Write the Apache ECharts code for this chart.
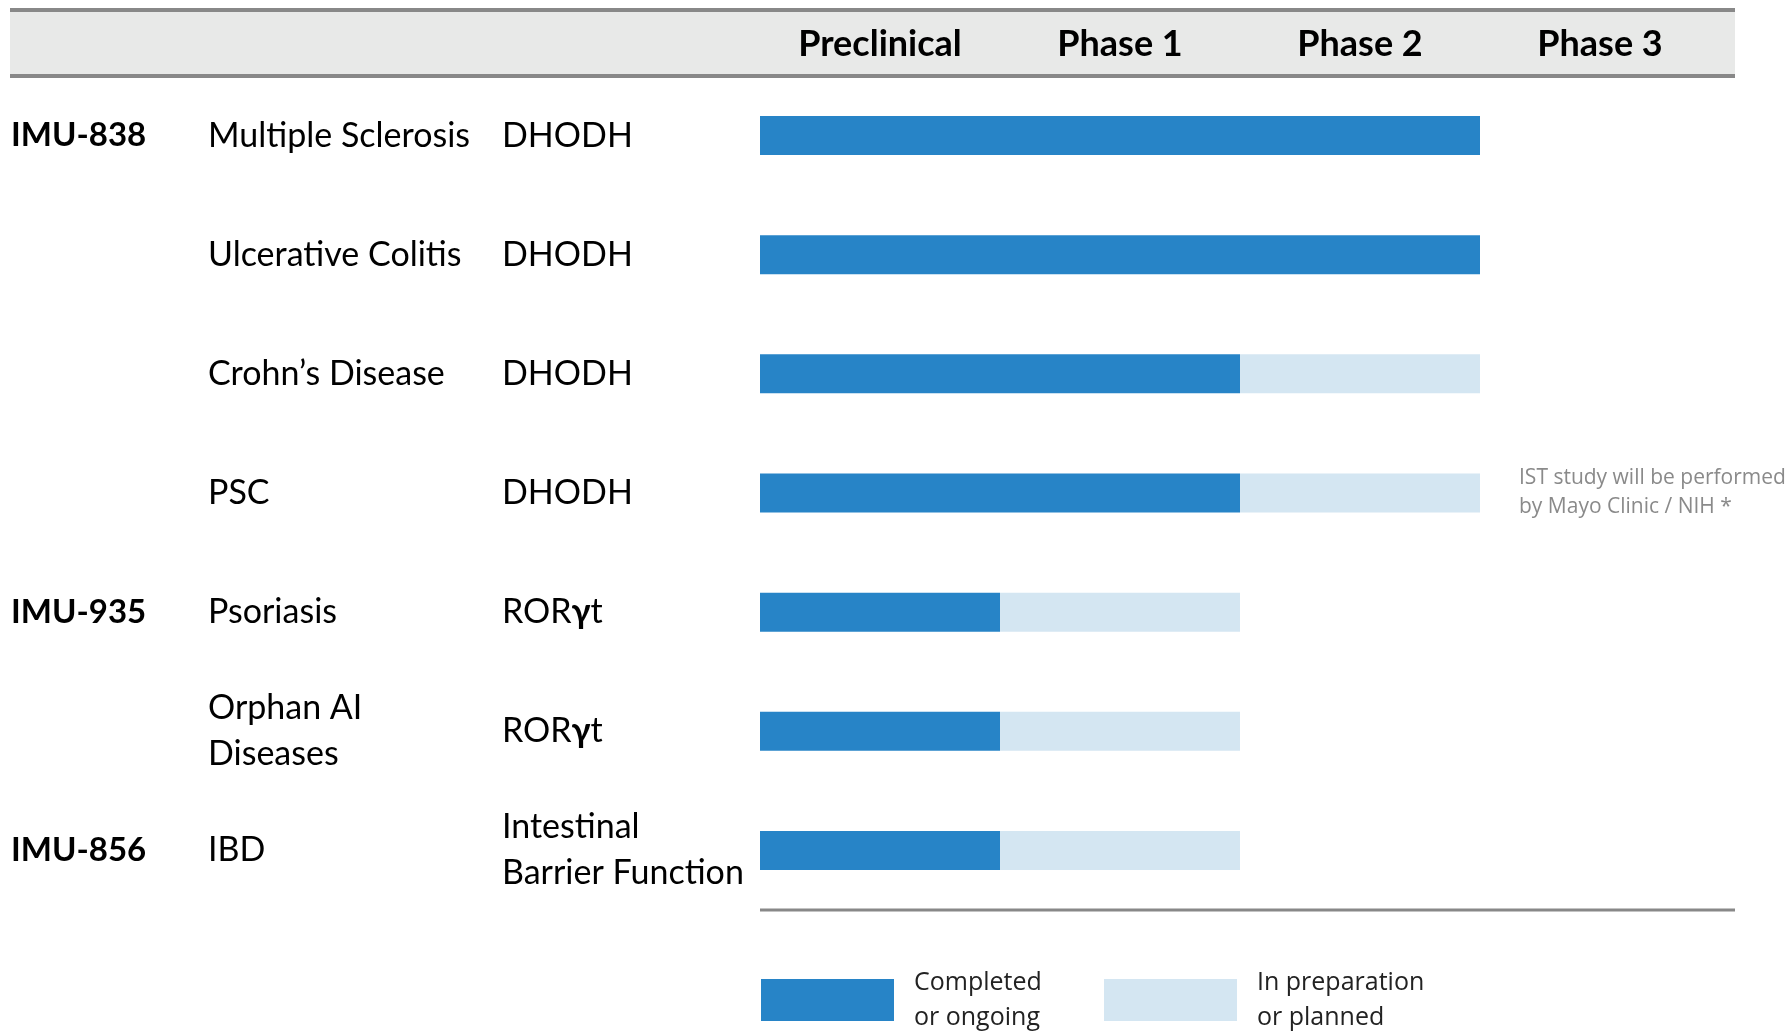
<!DOCTYPE html>
<html>
<head>
<meta charset="utf-8">
<script src="https://cdn.jsdelivr.net/npm/echarts@6/dist/echarts.min.js"></script>
<style>
  html, body { margin: 0; padding: 0; background: #fff; }
  #chart { width: 1790px; height: 1034px; }
</style>
</head>
<body>
<div id="chart"></div>
<script>
// pipeline rows, top to bottom
const indications = ['Multiple Sclerosis', 'Ulcerative Colitis', 'Crohn\u2019s Disease', 'PSC', 'Psoriasis', 'Orphan AI\nDiseases', 'IBD'];
const codes = ['IMU-838', '', '', '', 'IMU-935', '', 'IMU-856'];
const targets = ['DHODH', 'DHODH', 'DHODH', 'DHODH', 'ROR\u03b3t', 'ROR\u03b3t', 'Intestinal\nBarrier Function'];
const phases = ['Preclinical', 'Phase 1', 'Phase 2', 'Phase 3'];
// number of phases (bar length) per row
const completed = [3, 3, 2, 2, 1, 1, 1];
const planned = [0, 0, 1, 1, 1, 1, 1];
const notes = ['', '', '', 'IST study will be performed\nby Mayo Clinic / NIH *', '', '', ''];

const DARK = '#2784C7';
const LIGHT = '#D4E6F2';
const FONT = 'Lato';

let chart = echarts.init(document.getElementById('chart'));

// common style for the left columns
function leftAxis(offset, formatter, bold) {
    return {
        type: 'category',
        data: indications,
        inverse: true,
        position: 'left',
        offset: offset,
        axisLine: { show: false },
        axisTick: { show: false },
        splitLine: { show: false },
        axisLabel: {
            margin: 0,
            align: 'left',
            interval: 0,
            color: '#000',
            fontFamily: FONT,
            fontSize: bold ? 33 : 34,
            fontWeight: bold ? 'bold' : 'normal',
            lineHeight: 46,
            formatter: formatter,
            rich: {
                g: { fontFamily: FONT, fontSize: 34, fontWeight: 'bold', color: '#000' }
            }
        }
    };
}

let option = {
    animation: false,
    backgroundColor: '#fff',
    grid: {
        left: 760,
        right: 70,
        top: 76,
        bottom: 124,
        outerBoundsMode: 'none'
    },
    graphic: [
        // header band
        { type: 'rect', shape: { x: 10, y: 10, width: 1725, height: 66 }, style: { fill: '#E8E9E8' }, z: -10 },
        { type: 'line', shape: { x1: 10, y1: 10, x2: 1735, y2: 10 }, style: { stroke: '#888', lineWidth: 4 } },
        { type: 'line', shape: { x1: 10, y1: 76, x2: 1735, y2: 76 }, style: { stroke: '#888', lineWidth: 4 } },
        // bottom rule
        { type: 'line', shape: { x1: 760, y1: 910, x2: 1735, y2: 910 }, style: { stroke: '#888', lineWidth: 3 } }
    ],
    legend: {
        left: 761,
        top: 965,
        padding: 0,
        itemWidth: 133,
        itemHeight: 42,
        itemGap: 40,
        icon: 'rect',
        selectedMode: false,
        textStyle: {
            fontFamily: 'Open Sans',
            fontSize: 25,
            lineHeight: 35,
            color: '#222',
            width: 150,
            padding: [0, 0, 0, 15]
        },
        data: ['Completed\nor ongoing', 'In preparation\nor planned']
    },
    xAxis: [
        {
            type: 'value',
            min: 0,
            max: phases.length,
            interval: 1,
            show: false
        },
        {
            type: 'category',
            data: phases,
            position: 'top',
            axisLine: { show: false },
            axisTick: { show: false },
            axisLabel: {
                interval: 0,
                margin: 32,
                verticalAlign: 'middle',
                fontFamily: FONT,
                fontWeight: 'bold',
                fontSize: 36,
                color: '#000'
            }
        }
    ],
    yAxis: [
        leftAxis(749, (v, i) => codes[i], true),
        leftAxis(552, (v) => v, false),
        leftAxis(258, (v, i) => targets[i].replace('\u03b3', '{g|\u03b3}'), false)
    ],
    series: [
        {
            name: 'Completed\nor ongoing',
            type: 'bar',
            stack: 'phase',
            barWidth: 39,
            itemStyle: { color: DARK },
            data: completed
        },
        {
            name: 'In preparation\nor planned',
            type: 'bar',
            stack: 'phase',
            barWidth: 39,
            itemStyle: { color: LIGHT },
            data: planned.map((v, i) => notes[i] ? {
                value: v,
                label: {
                    show: true,
                    position: 'right',
                    distance: 39,
                    formatter: notes[i],
                    fontFamily: 'Open Sans',
                    fontSize: 21,
                    lineHeight: 29,
                    color: '#8a8a8a'
                }
            } : v)
        }
    ]
};

chart.setOption(option);
</script>
</body>
</html>
